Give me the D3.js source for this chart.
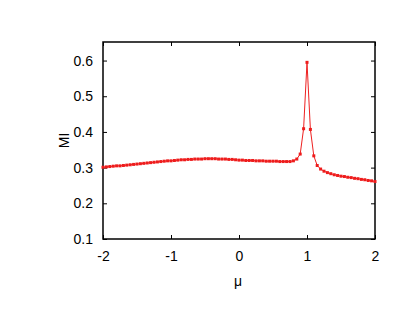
<!DOCTYPE html>
<html>
<head>
<meta charset="utf-8">
<script src="https://cdn.jsdelivr.net/npm/d3@7"></script>
<style>
  body { margin: 0; background: #fff; }
  text { font-family: "Liberation Sans", Arial, sans-serif; font-size: 14px; fill: #000; }
</style>
</head>
<body>
<div id="chart"></div>
<script>
// chemical potential grid
var mu = [-2.00, -1.95, -1.90, -1.85, -1.80, -1.75, -1.70, -1.65, -1.60, -1.55,
  -1.50, -1.45, -1.40, -1.35, -1.30, -1.25, -1.20, -1.15, -1.10, -1.05,
  -1.00, -0.95, -0.90, -0.85, -0.80, -0.75, -0.70, -0.65, -0.60, -0.55,
  -0.50, -0.45, -0.40, -0.35, -0.30, -0.25, -0.20, -0.15, -0.10, -0.05,
  0.00, 0.05, 0.10, 0.15, 0.20, 0.25, 0.30, 0.35, 0.40, 0.45,
  0.50, 0.55, 0.60, 0.65, 0.70, 0.75, 0.80, 0.85, 0.90, 0.95,
  1.00, 1.05, 1.10, 1.15, 1.20, 1.25, 1.30, 1.35, 1.40, 1.45,
  1.50, 1.55, 1.60, 1.65, 1.70, 1.75, 1.80, 1.85, 1.90, 1.95, 2.00];

// mutual information
var mi = [0.301, 0.302, 0.303, 0.304, 0.305, 0.305, 0.306, 0.307, 0.308, 0.309,
  0.310, 0.311, 0.312, 0.313, 0.314, 0.315, 0.316, 0.317, 0.318, 0.319,
  0.319, 0.320, 0.321, 0.322, 0.322, 0.323, 0.323, 0.324, 0.324, 0.324,
  0.325, 0.325, 0.325, 0.325, 0.324, 0.324, 0.324, 0.323, 0.323, 0.322,
  0.321, 0.321, 0.320, 0.320, 0.320, 0.319, 0.319, 0.319, 0.318, 0.318,
  0.318, 0.318, 0.317, 0.317, 0.317, 0.317, 0.319, 0.324, 0.338, 0.409,
  0.595, 0.407, 0.333, 0.306, 0.296, 0.290, 0.286, 0.283, 0.280, 0.278,
  0.276, 0.275, 0.273, 0.272, 0.270, 0.269, 0.267, 0.266, 0.264, 0.263, 0.261];

var xTicks = [-2, -1, 0, 1, 2];
var xTickLabels = ["-2", "-1", "0", "1", "2"];
var yTicks = [0.1, 0.2, 0.3, 0.4, 0.5, 0.6];
var yTickLabels = ["0.1", "0.2", "0.3", "0.4", "0.5", "0.6"];

var svgWidth = 415, svgHeight = 321;
var margin = { top: 42, right: 40, bottom: 82, left: 103 };
var width = 375 - margin.left;
var height = 239 - margin.top;

var svg = d3.select("#chart")
  .append("svg")
  .attr("width", svgWidth)
  .attr("height", svgHeight);

var chartGroup = svg.append("g")
  .attr("transform", `translate(${margin.left}, ${margin.top})`);

var xScale = d3.scaleLinear().domain([-2, 2]).range([0, width]);
var yScale = d3.scaleLinear().domain([0.1, 0.652]).range([height, 0]);

var data = mu.map((m, i) => ({ x: m, y: mi[i] }));

// inward ticks on all sides
function styleAxis(g) {
  g.select(".domain").remove();
  g.selectAll("line").attr("stroke", "#000").attr("stroke-width", 1);
  g.selectAll("text").style("font-size", "14px");
}

chartGroup.append("g")
  .attr("transform", `translate(0, ${height})`)
  .call(d3.axisBottom(xScale).tickValues(xTicks).tickSizeInner(-4).tickSizeOuter(0).tickPadding(12)
    .tickFormat((d, i) => xTickLabels[i]))
  .call(styleAxis);

chartGroup.append("g")
  .call(d3.axisTop(xScale).tickValues(xTicks).tickSizeInner(-4).tickSizeOuter(0).tickFormat(""))
  .call(styleAxis);

chartGroup.append("g")
  .call(d3.axisLeft(yScale).tickValues(yTicks).tickSizeInner(-4).tickSizeOuter(0).tickPadding(10)
    .tickFormat((d, i) => yTickLabels[i]))
  .call(styleAxis);

chartGroup.append("g")
  .attr("transform", `translate(${width}, 0)`)
  .call(d3.axisRight(yScale).tickValues(yTicks).tickSizeInner(-4).tickSizeOuter(0).tickFormat(""))
  .call(styleAxis);

// frame
chartGroup.append("rect")
  .attr("width", width)
  .attr("height", height)
  .attr("fill", "none")
  .attr("stroke", "#000")
  .attr("stroke-width", 1.5);

var line = d3.line()
  .x(d => xScale(d.x))
  .y(d => yScale(d.y));

chartGroup.append("path")
  .datum(data)
  .attr("d", line)
  .attr("fill", "none")
  .attr("stroke", "#ee2020")
  .attr("stroke-width", 1);

chartGroup.selectAll("rect.pt")
  .data(data)
  .enter()
  .append("rect")
  .attr("class", "pt")
  .attr("x", d => xScale(d.x) - 1.5)
  .attr("y", d => yScale(d.y) - 1.5)
  .attr("width", 3)
  .attr("height", 3)
  .attr("fill", "#ee1c1c");

// axis labels
chartGroup.append("text")
  .attr("transform", `translate(${-34}, ${height / 2}) rotate(-90)`)
  .attr("text-anchor", "middle")
  .text("MI");

chartGroup.append("text")
  .attr("x", width / 2 - 1)
  .attr("y", height + 47)
  .attr("text-anchor", "middle")
  .text("μ");
</script>
</body>
</html>
